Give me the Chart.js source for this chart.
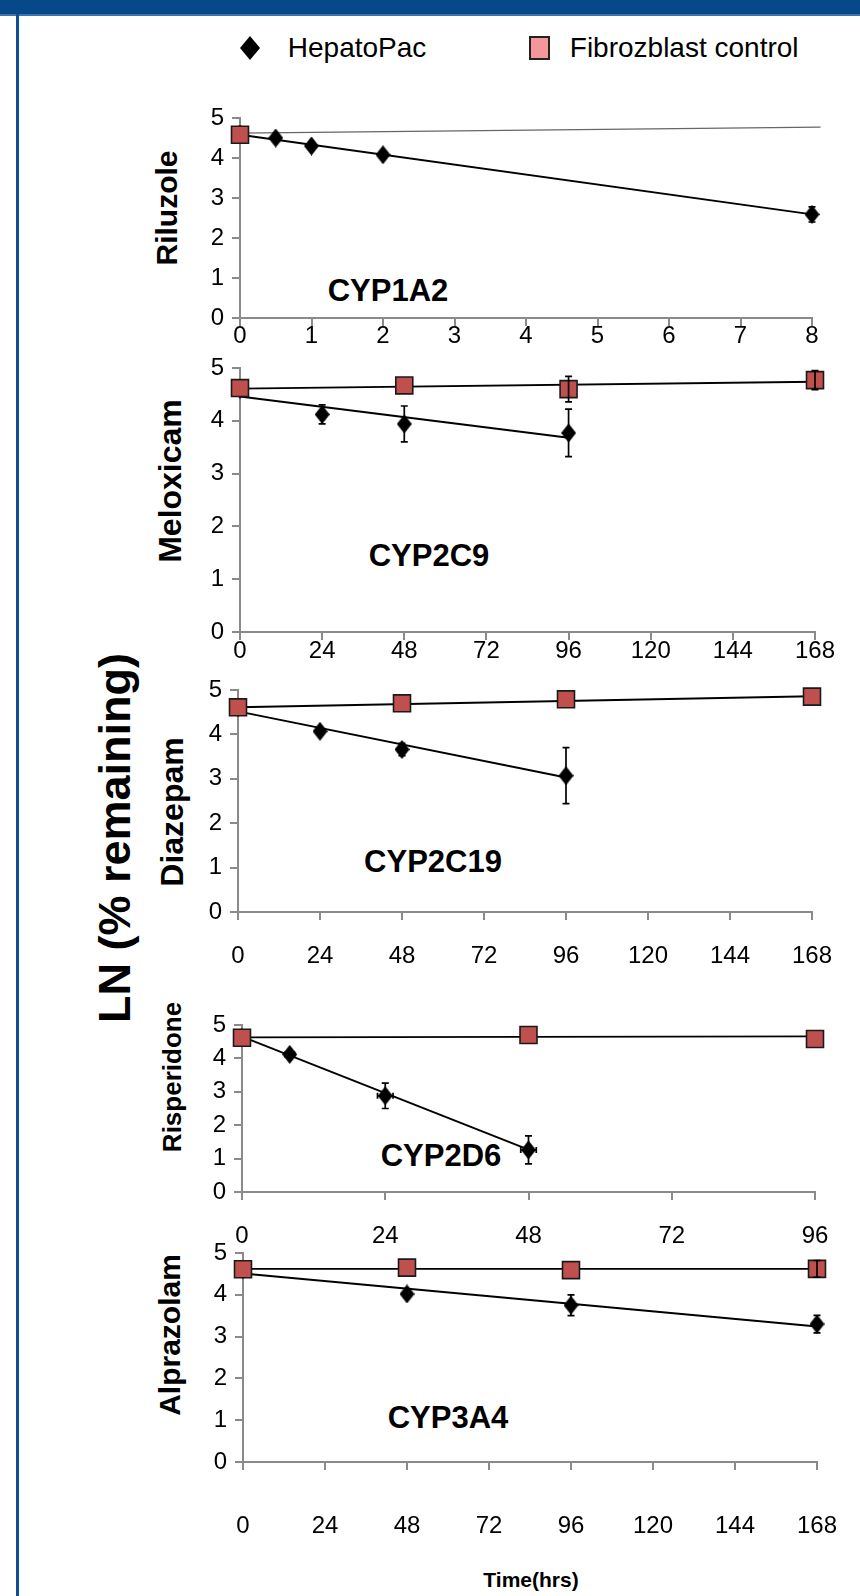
<!DOCTYPE html>
<html>
<head>
<meta charset="utf-8">
<script src="https://cdn.jsdelivr.net/npm/chart.js@4.4.1/dist/chart.umd.min.js"></script>
<style>
  body { margin: 0; width: 860px; height: 1596px; background: #fff; position: relative; overflow: hidden;
         font-family: "Liberation Sans", Arial, sans-serif; }
  .topbar { position: absolute; left: 0; top: 0; width: 860px; height: 14px; background: #05498a; border-bottom: 2px solid #3f72aa; z-index: 5; }
  .leftbar { position: absolute; left: 16px; top: 14px; width: 3px; height: 1582px; background: #0b4f95; z-index: 5; }
  canvas { position: absolute; left: 0; }
  .lbl { position: absolute; white-space: nowrap; transform: translate(-50%, -50%); color: #000; font-weight: bold; }
  .cyp { font-size: 31px; }
  .ytitle { transform: translate(-50%, -50%) rotate(-90deg); }
  .legend { position: absolute; top: 31px; height: 34px; font-size: 28px; line-height: 34px; }
</style>
</head>
<body>
<div class="topbar"></div>
<div class="leftbar"></div>

<div class="legend" style="left:238px">
  <svg width="24" height="34" style="vertical-align:top"><polygon points="12,5 22,17 12,29 2,17" fill="#000"/></svg>
  <span style="margin-left:18px">HepatoPac</span>
</div>
<div class="legend" style="left:528px">
  <svg width="24" height="34" style="vertical-align:top"><rect x="2" y="6" width="19" height="22" fill="#f4979a" stroke="#222" stroke-width="2"/></svg>
  <span style="margin-left:10px">Fibrozblast control</span>
</div>

<div class="lbl ytitle" style="left:115px;top:838px;font-size:45px;">LN (% remaining)</div>

<div class="lbl ytitle" style="left:167px;top:208px;font-size:30px">Riluzole</div>
<div class="lbl ytitle" style="left:170px;top:481px;font-size:32px">Meloxicam</div>
<div class="lbl ytitle" style="left:172px;top:812px;font-size:32px">Diazepam</div>
<div class="lbl ytitle" style="left:172px;top:1077px;font-size:26px">Risperidone</div>
<div class="lbl ytitle" style="left:170px;top:1335px;font-size:30px">Alprazolam</div>

<div class="lbl cyp" style="left:388px;top:291px">CYP1A2</div>
<div class="lbl cyp" style="left:429px;top:556px">CYP2C9</div>
<div class="lbl cyp" style="left:433px;top:862px">CYP2C19</div>
<div class="lbl cyp" style="left:441px;top:1156px">CYP2D6</div>
<div class="lbl cyp" style="left:448px;top:1418px">CYP3A4</div>
<div class="lbl" style="left:531px;top:1580px;font-size:21px">Time(hrs)</div>

<script>
// ---- datos ----
// Riluzole / CYP1A2 (horas 0-8)
const rilTicks = [0, 1, 2, 3, 4, 5, 6, 7, 8];
const rilHepX = [0, 0.5, 1, 2, 8];
const rilHepY = [4.6, 4.5, 4.3, 4.08, 2.59];
const rilHepErr = [0, 0.04, 0.05, 0.07, 0.19];
const rilFibX = [0];
const rilFibY = [4.58];
const rilFibErr = [0];
const rilHepFitX = [0, 8];
const rilHepFitY = [4.58, 2.59];
const rilFibFitX = [0, 8.12];
const rilFibFitY = [4.62, 4.77];

// Meloxicam / CYP2C9 (horas 0-168)
const melTicks = [0, 24, 48, 72, 96, 120, 144, 168];
const melHepX = [0, 24, 48, 96];
const melHepY = [4.6, 4.12, 3.94, 3.77];
const melHepErr = [0, 0.18, 0.34, 0.45];
const melFibX = [0, 48, 96, 168];
const melFibY = [4.62, 4.67, 4.6, 4.77];
const melFibErr = [0, 0, 0.24, 0.18];
const melHepFitX = [0, 96];
const melHepFitY = [4.46, 3.68];
const melFibFitX = [0, 168];
const melFibFitY = [4.61, 4.74];

// Diazepam / CYP2C19 (horas 0-168)
const diaTicks = [0, 24, 48, 72, 96, 120, 144, 168];
const diaHepX = [0, 24, 48, 96];
const diaHepY = [4.6, 4.07, 3.66, 3.07];
const diaHepErr = [0, 0.07, 0.14, 0.63];
const diaFibX = [0, 48, 96, 168];
const diaFibY = [4.61, 4.7, 4.79, 4.85];
const diaFibErr = [0, 0, 0, 0];
const diaHepFitX = [0, 96];
const diaHepFitY = [4.52, 3.03];
const diaFibFitX = [0, 168];
const diaFibFitY = [4.61, 4.86];

// Risperidone / CYP2D6 (horas 0-96)
const risTicks = [0, 24, 48, 72, 96];
const risHepX = [0, 8, 24, 48];
const risHepY = [4.62, 4.12, 2.88, 1.26];
const risHepErr = [0, 0.05, 0.38, 0.42];
const risHepErrX = [0, 0.8, 1.3, 1.3];
const risFibX = [0, 48, 96];
const risFibY = [4.62, 4.7, 4.58];
const risFibErr = [0, 0, 0];
const risHepFitX = [0, 48];
const risHepFitY = [4.65, 1.27];
const risFibFitX = [0, 96];
const risFibFitY = [4.63, 4.66];

// Alprazolam / CYP3A4 (horas 0-168)
const alpTicks = [0, 24, 48, 72, 96, 120, 144, 168];
const alpHepX = [0, 48, 96, 168];
const alpHepY = [4.6, 4.02, 3.75, 3.3];
const alpHepErr = [0, 0.08, 0.25, 0.21];
const alpFibX = [0, 48, 96, 168];
const alpFibY = [4.61, 4.65, 4.59, 4.62];
const alpFibErr = [0, 0, 0, 0.2];
const alpHepFitX = [0, 168];
const alpHepFitY = [4.51, 3.24];
const alpFibFitX = [0, 168];
const alpFibFitY = [4.62, 4.62];

const yTicks = [0, 1, 2, 3, 4, 5];

// ---- utilidades ----
function pts(xs, ys) {
    return xs.map((x, i) => ({ x: x, y: ys[i] }));
}

// rombo algo más alto que ancho, como el de la figura
function diamondMarker() {
    const c = document.createElement('canvas');
    c.width = 15; c.height = 19;
    const g = c.getContext('2d');
    g.fillStyle = '#000';
    g.beginPath();
    g.moveTo(7.5, 0); g.lineTo(15, 9.5); g.lineTo(7.5, 19); g.lineTo(0, 9.5);
    g.closePath();
    g.fill();
    return c;
}
const diamond = diamondMarker();

// barras de error (verticales y, si hay, horizontales)
const errorBars = {
    id: 'errorBars',
    afterDatasetsDraw(chart) {
        const ctx = chart.ctx;
        const xs = chart.scales.x, ys = chart.scales.y;
        chart.data.datasets.forEach((ds) => {
            if (!ds.errY) return;
            ctx.save();
            ctx.strokeStyle = '#000';
            ctx.lineWidth = 1.7;
            ds.data.forEach((p, j) => {
                const px = xs.getPixelForValue(p.x);
                const e = ds.errY[j];
                if (e) {
                    const y1 = ys.getPixelForValue(p.y + e), y2 = ys.getPixelForValue(p.y - e);
                    ctx.beginPath();
                    ctx.moveTo(px, y1); ctx.lineTo(px, y2);
                    ctx.moveTo(px - 3.5, y1); ctx.lineTo(px + 3.5, y1);
                    ctx.moveTo(px - 3.5, y2); ctx.lineTo(px + 3.5, y2);
                    ctx.stroke();
                }
                const ex = ds.errX ? ds.errX[j] : 0;
                if (ex) {
                    const py = ys.getPixelForValue(p.y);
                    const x1 = xs.getPixelForValue(p.x - ex), x2 = xs.getPixelForValue(p.x + ex);
                    ctx.beginPath();
                    ctx.moveTo(x1, py); ctx.lineTo(x2, py);
                    ctx.moveTo(x1, py - 3); ctx.lineTo(x1, py + 3);
                    ctx.moveTo(x2, py - 3); ctx.lineTo(x2, py + 3);
                    ctx.stroke();
                }
            });
            ctx.restore();
        });
    }
};

// geometría de cada panel (px de la página)
const panels = [
    { ticks: rilTicks, L: 240, R: 812, T: 118, B: 318, pad: -4,
      hep: pts(rilHepX, rilHepY), hepErr: rilHepErr, fib: pts(rilFibX, rilFibY), fibErr: rilFibErr,
      hepFit: pts(rilHepFitX, rilHepFitY), fibFit: pts(rilFibFitX, rilFibFitY), fibFitColor: '#666', fibFitWidth: 1.3 },
    { ticks: melTicks, L: 240, R: 815, T: 368, B: 632, pad: -3,
      hep: pts(melHepX, melHepY), hepErr: melHepErr, fib: pts(melFibX, melFibY), fibErr: melFibErr,
      hepFit: pts(melHepFitX, melHepFitY), fibFit: pts(melFibFitX, melFibFitY) },
    { ticks: diaTicks, L: 238, R: 812, T: 690, B: 912, pad: 22,
      hep: pts(diaHepX, diaHepY), hepErr: diaHepErr, fib: pts(diaFibX, diaFibY), fibErr: diaFibErr,
      hepFit: pts(diaHepFitX, diaHepFitY), fibFit: pts(diaFibFitX, diaFibFitY) },
    { ticks: risTicks, L: 242, R: 815, T: 1025, B: 1192, pad: 22,
      hep: pts(risHepX, risHepY), hepErr: risHepErr, hepErrX: risHepErrX, fib: pts(risFibX, risFibY), fibErr: risFibErr,
      hepFit: pts(risHepFitX, risHepFitY), fibFit: pts(risFibFitX, risFibFitY) },
    { ticks: alpTicks, L: 243, R: 817, T: 1253, B: 1462, pad: 42,
      hep: pts(alpHepX, alpHepY), hepErr: alpHepErr, fib: pts(alpFibX, alpFibY), fibErr: alpFibErr,
      hepFit: pts(alpHepFitX, alpHepFitY), fibFit: pts(alpFibFitX, alpFibFitY) }
];

const tickFont = { family: '"Liberation Sans", Arial', size: 24 };
const axisGray = '#8a8a8a';

function makePanel(p) {
    const top = p.T - 16;
    const h = (p.B - top) + 8 + p.pad + 40;
    const canvas = document.createElement('canvas');
    canvas.width = 860;
    canvas.height = h;
    canvas.style.top = top + 'px';
    canvas.style.width = '860px';
    canvas.style.height = h + 'px';
    document.body.appendChild(canvas);

    new Chart(canvas, {
        type: 'scatter',
        data: {
            datasets: [
                {   // Fibroblast control
                    data: p.fib, errY: p.fibErr, showLine: false, order: 0, clip: false,
                    pointStyle: 'rect', pointRadius: 12, backgroundColor: '#c0504d',
                    borderColor: '#1a1a1a', borderWidth: 1.6
                },
                {   // HepatoPac
                    data: p.hep, errY: p.hepErr, errX: p.hepErrX, showLine: false, order: 1, clip: false,
                    pointStyle: diamond, pointRadius: 8, backgroundColor: '#000', borderColor: '#000'
                },
                {   // línea de tendencia HepatoPac
                    data: p.hepFit, showLine: true, order: 2, pointRadius: 0, clip: false,
                    borderColor: '#000', borderWidth: 1.9
                },
                {   // línea de tendencia fibroblastos
                    data: p.fibFit, showLine: true, order: 3, pointRadius: 0, clip: false,
                    borderColor: p.fibFitColor || '#000', borderWidth: p.fibFitWidth || 1.9
                }
            ]
        },
        options: {
            responsive: false,
            animation: false,
            events: [],
            layout: { padding: { left: 0, right: 860 - p.R, top: 16, bottom: 0 } },
            plugins: { legend: { display: false }, tooltip: { enabled: false } },
            scales: {
                x: {
                    type: 'linear',
                    min: p.ticks[0],
                    max: p.ticks[p.ticks.length - 1],
                    afterBuildTicks: s => { s.ticks = p.ticks.map(v => ({ value: v })); },
                    afterFit: s => { s.height = h - (p.B - top); s.paddingLeft = 0; s.paddingRight = 0; },
                    grid: { drawOnChartArea: false, drawTicks: true, tickLength: 8, color: axisGray, lineWidth: 2 },
                    border: { color: axisGray, width: 2 },
                    ticks: { font: tickFont, color: '#000', padding: p.pad, maxRotation: 0, autoSkip: false }
                },
                y: {
                    min: 0,
                    max: 5,
                    afterBuildTicks: s => { s.ticks = yTicks.map(v => ({ value: v })); },
                    afterFit: s => { s.width = p.L; s.paddingTop = 0; s.paddingBottom = 0; },
                    grid: { drawOnChartArea: false, drawTicks: true, tickLength: 8, color: axisGray, lineWidth: 2 },
                    border: { color: axisGray, width: 2 },
                    ticks: { font: tickFont, color: '#000', padding: 8 }
                }
            }
        },
        plugins: [errorBars]
    });
}

panels.forEach(makePanel);
</script>
</body>
</html>
